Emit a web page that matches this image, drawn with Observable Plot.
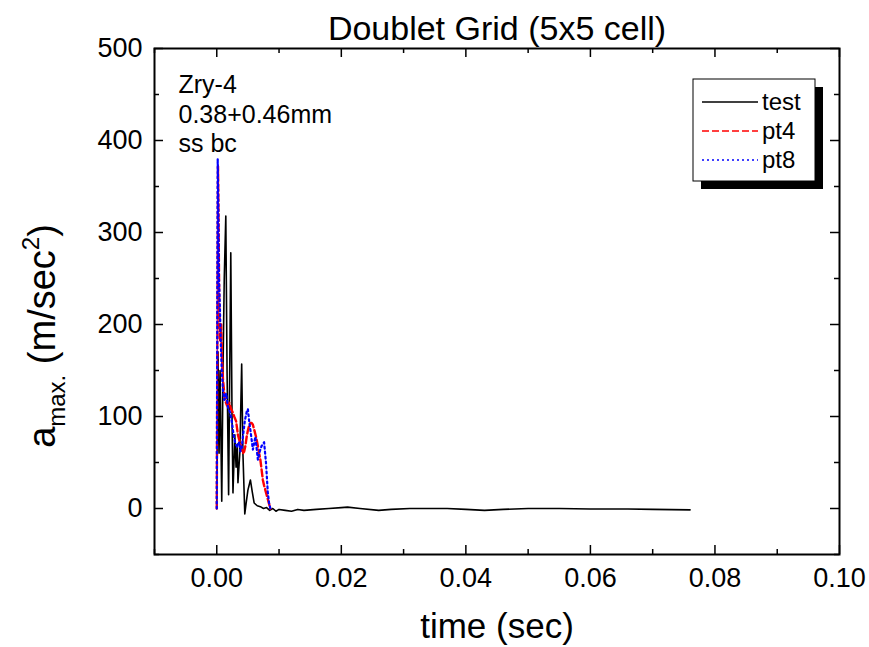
<!DOCTYPE html>
<html>
<head>
<meta charset="utf-8">
<script src="https://cdn.jsdelivr.net/npm/d3@7"></script>
<script src="https://cdn.jsdelivr.net/npm/@observablehq/plot@0.6"></script>
<style>
  html, body { margin: 0; padding: 0; background: white; }
  #chart svg { display: block; }
</style>
</head>
<body>
<div id="chart"></div>
<script>
// ---- data (time in sec, acceleration in m/sec^2) ----
const testT = [0, 0.00013, 0.0002, 0.00037, 0.00053, 0.0008, 0.001, 0.0012, 0.00145, 0.00165, 0.0019, 0.00225, 0.00245, 0.0026, 0.0029, 0.0031, 0.0033, 0.0034, 0.0037, 0.004, 0.0042, 0.0045, 0.0047, 0.005, 0.0054, 0.0057, 0.006, 0.0065, 0.007, 0.0075, 0.008, 0.0085, 0.009, 0.0095, 0.010, 0.011, 0.012, 0.013, 0.014, 0.016, 0.018, 0.020, 0.021, 0.023, 0.026, 0.028, 0.031, 0.034, 0.037, 0.040, 0.043, 0.046, 0.050, 0.055, 0.060, 0.066, 0.070, 0.076];
const testV = [0, 100, 170, 60, 150, 8, 150, 250, 318, 150, 15, 278, 100, 17, 80, 45, 70, 28, 60, 157, 60, -6, 5, 20, 31, 18, 6, 3, 2, 0, 1, -2, 0, -3, -1, -2, -3, -1, -2, -1, 0, 1, 1.5, 0, -2, -1, 0, 0, 0, -1, -2, -1, 0, 0, -0.5, -0.5, -1, -1.5];

const pt4T = [0, 0.0001, 0.0002, 0.0003, 0.0004, 0.00053, 0.0007, 0.00085, 0.001, 0.0013, 0.00165, 0.002, 0.0023, 0.0026, 0.0028, 0.0031, 0.0034, 0.0037, 0.0039, 0.0042, 0.0044, 0.0046, 0.0048, 0.005, 0.0052, 0.0054, 0.0056, 0.0058, 0.006, 0.0063, 0.0066, 0.0068, 0.007, 0.0072, 0.0074, 0.0076, 0.0078, 0.008, 0.0082, 0.0084, 0.0086];
const pt4V = [0, 200, 372, 300, 220, 183, 200, 160, 140, 118, 112, 115, 108, 104, 100, 95, 80, 72, 68, 60, 62, 68, 78, 85, 90, 93, 93, 91, 86, 78, 68, 60, 53, 42, 31, 25, 20, 15, 10, 5, 0];

const pt8T = [0, 0.0001, 0.00015, 0.00025, 0.00035, 0.0005, 0.0006, 0.0008, 0.001, 0.0012, 0.0015, 0.0018, 0.0021, 0.0024, 0.0027, 0.003, 0.0033, 0.0036, 0.0038, 0.0040, 0.0042, 0.0045, 0.0048, 0.005, 0.0052, 0.0055, 0.0058, 0.0062, 0.0066, 0.0069, 0.0072, 0.0076, 0.0079, 0.0082, 0.0084, 0.0086];
const pt8V = [0, 250, 380, 330, 250, 219, 190, 150, 128, 118, 125, 110, 105, 95, 80, 70, 67, 72, 62, 66, 78, 95, 105, 108, 95, 80, 64, 78, 53, 62, 68, 72, 50, 17, 6, 0];

const seriesNames = ["test", "pt4", "pt8"];
const xMajor = [0, 0.02, 0.04, 0.06, 0.08, 0.10];
const xMinor = [-0.01, 0.01, 0.03, 0.05, 0.07, 0.09];
const yMajor = [0, 100, 200, 300, 400, 500];
const yMinor = [-50, 50, 150, 250, 350, 450];
const annotation = ["Zry-4", "0.38+0.46mm", "ss bc"];
const titleText = "Doublet Grid (5x5 cell)";
const xLabel = "time (sec)";

// ---- tables ----
const toRows = (T, V) => T.map((t, i) => ({t, v: V[i]}));
const testRows = toRows(testT, testV);
const pt4Rows = toRows(pt4T, pt4V);
const pt8Rows = toRows(pt8T, pt8V);

const W = 869, H = 647, mL = 154, mR = 30, mT = 48, mB = 93;
const innerW = W - mL - mR, innerH = H - mT - mB;
const font = "'Liberation Sans', Arial, Helvetica, sans-serif";
const major = 9, minor = 5;

const chart = Plot.plot({
  width: W, height: H,
  marginLeft: mL, marginRight: mR, marginTop: mT, marginBottom: mB,
  x: {domain: [-0.01, 0.10]},
  y: {domain: [-50, 500]},
  style: {fontFamily: font, background: "white", color: "black", overflow: "visible"},
  marks: [
    // data
    Plot.line(testRows, {x: "t", y: "v", stroke: "black", strokeWidth: 1.6}),
    Plot.line(pt4Rows, {x: "t", y: "v", stroke: "#ff0000", strokeWidth: 2.4, strokeDasharray: "7,3"}),
    Plot.line(pt8Rows, {x: "t", y: "v", stroke: "#0000ff", strokeWidth: 2.2, strokeDasharray: "2,3"}),
    // inward ticks on all four sides
    Plot.tickX(xMajor, {x: d => d, insetTop: innerH - major, stroke: "black", strokeWidth: 1.5}),
    Plot.tickX(xMinor, {x: d => d, insetTop: innerH - minor, stroke: "black", strokeWidth: 1.5}),
    Plot.tickX(xMajor, {x: d => d, insetBottom: innerH - major, stroke: "black", strokeWidth: 1.5}),
    Plot.tickX(xMinor, {x: d => d, insetBottom: innerH - minor, stroke: "black", strokeWidth: 1.5}),
    Plot.tickY(yMajor, {y: d => d, insetRight: innerW - major, stroke: "black", strokeWidth: 1.5}),
    Plot.tickY(yMinor, {y: d => d, insetRight: innerW - minor, stroke: "black", strokeWidth: 1.5}),
    Plot.tickY(yMajor, {y: d => d, insetLeft: innerW - major, stroke: "black", strokeWidth: 1.5}),
    Plot.tickY(yMinor, {y: d => d, insetLeft: innerW - minor, stroke: "black", strokeWidth: 1.5}),
    // tick labels
    Plot.axisX(xMajor, {tickSize: 0, tickPadding: 13, tickFormat: d3.format(".2f"), fontSize: 27, label: null}),
    Plot.axisY(yMajor, {tickSize: 0, tickPadding: 12, tickFormat: d3.format("d"), fontSize: 27, label: null}),
    Plot.frame({stroke: "black", strokeWidth: 2}),
    // annotation
    Plot.text([annotation.join("\n")], {text: d => d, frameAnchor: "top-left", textAnchor: "start", lineAnchor: "top", dx: 24, dy: 24, fontSize: 25, lineHeight: 1.17, fill: "black"}),
    // title
    Plot.text([titleText], {text: d => d, frameAnchor: "top", lineAnchor: "bottom", dy: -9, fontSize: 34, fill: "black"}),
    // x axis label
    Plot.text([xLabel], {text: d => d, frameAnchor: "bottom", lineAnchor: "bottom", dy: 83, fontSize: 35, fill: "black"})
  ]
});

document.getElementById("chart").appendChild(chart);

// ---- y-axis label with subscript / superscript ----
const svg = d3.select(chart);
const yl = svg.append("text")
  .attr("transform", `translate(55,336) rotate(-90)`)
  .attr("text-anchor", "middle")
  .attr("font-family", font)
  .attr("font-size", 38)
  .attr("fill", "black");
yl.append("tspan").text("a");
yl.append("tspan").attr("font-size", 24).attr("dy", 10).text("max.");
yl.append("tspan").attr("dy", -10).text(" (m/sec");
yl.append("tspan").attr("font-size", 24).attr("dy", -16).text("2");
yl.append("tspan").attr("dy", 16).text(")");

// ---- legend (boxed, with shadow) ----
const lg = svg.append("g").attr("font-family", font).attr("font-size", 24).attr("text-anchor", "start");
const bx = 693, by = 79, bw = 122, bh = 102, sh = 8;
lg.append("rect").attr("x", bx + sh).attr("y", by + sh).attr("width", bw).attr("height", bh).attr("fill", "black");
lg.append("rect").attr("x", bx).attr("y", by).attr("width", bw).attr("height", bh).attr("fill", "white").attr("stroke", "black").attr("stroke-width", 1);
const legendStyles = [
  {stroke: "black", dash: null, w: 1.5},
  {stroke: "#ff0000", dash: "7,3", w: 1.5},
  {stroke: "#0000ff", dash: "2,3", w: 1.5}
];
seriesNames.forEach((name, i) => {
  const cy = 102 + i * 29;
  const ln = lg.append("line").attr("x1", 702).attr("x2", 758).attr("y1", cy).attr("y2", cy)
    .attr("stroke", legendStyles[i].stroke).attr("stroke-width", legendStyles[i].w);
  if (legendStyles[i].dash) ln.attr("stroke-dasharray", legendStyles[i].dash);
  lg.append("text").attr("x", 762).attr("y", cy + 8).attr("text-anchor", "start").attr("fill", "black").text(name);
});
</script>
</body>
</html>
